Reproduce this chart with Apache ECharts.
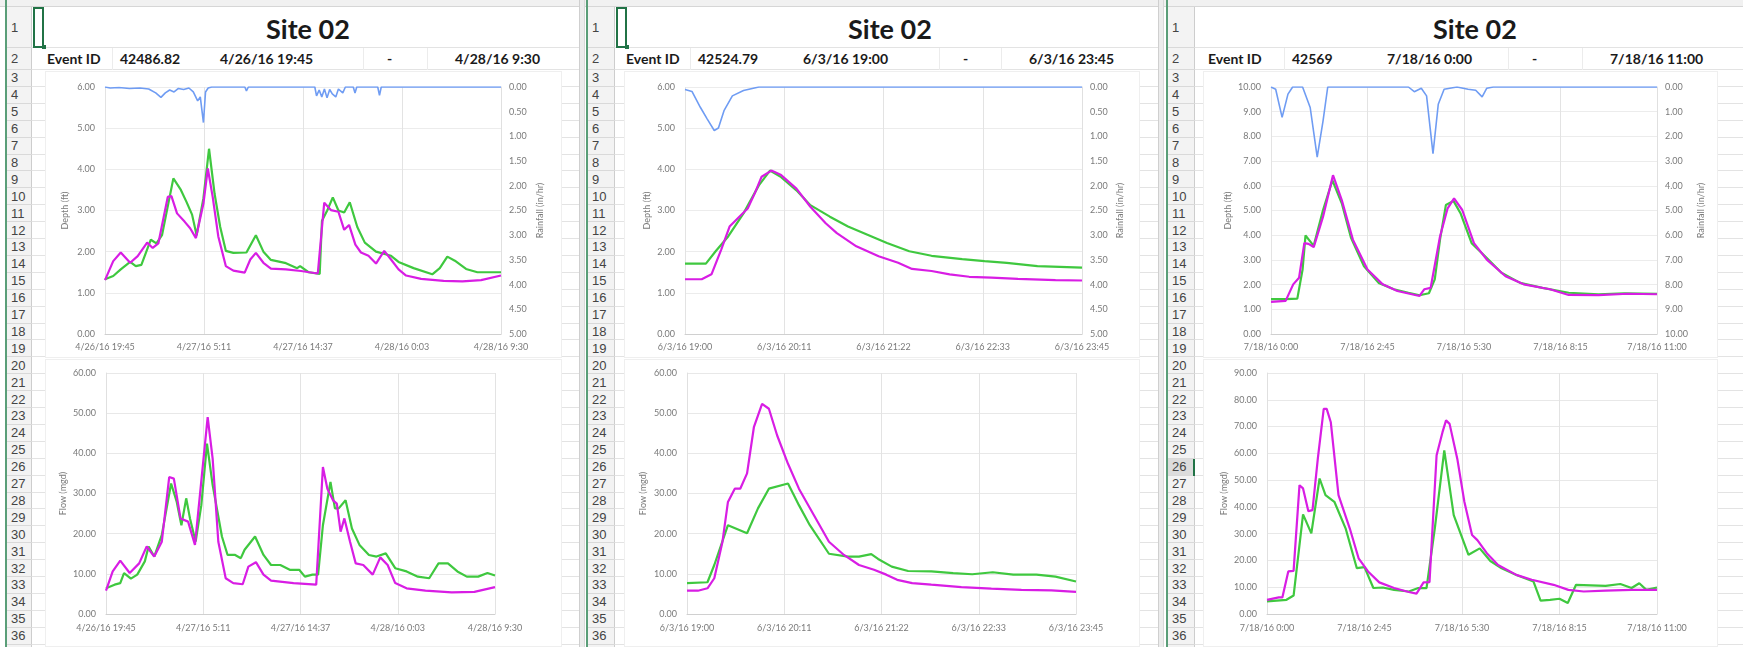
<!DOCTYPE html>
<html>
<head>
<meta charset="utf-8">
<script src="https://cdn.jsdelivr.net/npm/echarts@6/dist/echarts.min.js"></script>
<style>
  html, body { margin: 0; padding: 0; background: #fff; }
  #page { position: relative; width: 1743px; height: 647px; overflow: hidden; background: #fff; }
  #sheet, #chart { position: absolute; left: 0; top: 0; width: 1743px; height: 647px; }
  .abs { position: absolute; box-sizing: border-box; }
  .txt { position: absolute; white-space: nowrap; font-family: Lato, "Liberation Sans", sans-serif; color: #1a1a1a; }
</style>
</head>
<body>
<div id="page">
  <div id="sheet"></div>
  <div id="chart"></div>
</div>
<script>
// ---- event data -------------------------------------------------------
const eventIds   = ['42486.82', '42524.79', '42569'];
const startTimes = [Date.UTC(2016, 3, 26, 19, 45), Date.UTC(2016, 5, 3, 19, 0), Date.UTC(2016, 6, 18, 0, 0)];
const spanMinutes = [2265, 285, 660];          // event length in minutes
const depthMax = [6, 6, 10];
const rainMax  = [5, 5, 10];
const rainStep = [0.5, 0.5, 1];
const flowMax  = [60, 60, 90];

// [minutes since event start, value]
const depthObs1 = [[0,1.33],[47,1.41],[90,1.57],[144,1.75],[176,1.65],[208,1.68],[262,2.29],[294,2.2],[326,2.4],[391,3.78],[434,3.5],[466,3.21],[498,2.9],[524,2.4],[563,3.3],[595,4.5],[627,3.4],[659,2.6],[691,2.02],[734,1.97],[809,1.98],[863,2.4],[906,2.0],[949,1.8],[1035,1.72],[1099,1.6],[1116,1.65],[1164,1.5],[1228,1.46],[1241,2.75],[1271,3.0],[1303,3.32],[1335,3.0],[1368,2.95],[1400,3.2],[1443,2.6],[1486,2.22],[1550,2.0],[1636,1.9],[1679,1.75],[1765,1.6],[1872,1.45],[1915,1.6],[1958,1.88],[2001,1.78],[2065,1.58],[2130,1.5],[2265,1.5]];
const depthSim1 = [[0,1.31],[47,1.77],[90,1.98],[144,1.73],[187,1.89],[241,2.22],[273,2.09],[305,2.2],[359,3.33],[380,3.35],[412,2.93],[455,2.73],[487,2.57],[520,2.33],[563,3.17],[588,4.02],[616,3.33],[648,2.37],[691,1.65],[734,1.54],[799,1.49],[831,1.81],[863,1.97],[906,1.73],[949,1.59],[1035,1.57],[1121,1.53],[1217,1.47],[1254,3.19],[1292,3.01],[1335,2.97],[1368,2.53],[1396,2.65],[1432,2.17],[1464,1.98],[1507,1.9],[1550,1.71],[1597,2.02],[1636,1.81],[1679,1.57],[1722,1.42],[1808,1.34],[1937,1.29],[2044,1.28],[2151,1.31],[2265,1.42]];
const rain1 = [[0,0],[30,0.02],[80,0.01],[140,0.03],[200,0.02],[250,0.04],[290,0.12],[320,0.21],[345,0.12],[370,0.06],[395,0.1],[420,0.03],[450,0.05],[480,0.02],[505,0.1],[530,0.28],[545,0.2],[563,0.72],[575,0.1],[590,0.02],[610,0],[800,0],[809,0.08],[820,0],[1200,0],[1210,0.18],[1225,0.06],[1240,0.2],[1255,0.04],[1270,0.22],[1285,0.05],[1300,0.14],[1320,0.2],[1335,0.04],[1360,0.12],[1375,0],[1420,0],[1430,0.12],[1440,0],[1560,0],[1570,0.17],[1580,0],[2265,0]];
const flowObs1 = [[0,6.4],[50,7.3],[83,7.7],[105,10.2],[145,8.8],[182,9.8],[226,13.1],[248,16.8],[281,14.3],[325,19.7],[379,32.5],[412,27.9],[439,22.1],[467,28.8],[489,23.8],[522,18],[555,27.1],[588,42.4],[621,32.1],[649,25.5],[675,19.3],[708,14.7],[752,14.7],[785,13.9],[807,16],[868,19.3],[917,14.7],[961,12.2],[1015,12.2],[1070,11],[1125,11],[1158,9.3],[1202,9.8],[1235,9.8],[1263,22.1],[1307,32.9],[1333,26.3],[1355,26.3],[1395,28.3],[1432,21.3],[1476,17.2],[1531,14.7],[1575,14.3],[1629,15.1],[1684,11.4],[1750,10.6],[1816,9.3],[1882,8.9],[1936,12.6],[1991,12.6],[2046,10.6],[2101,9.3],[2167,9.3],[2221,10.2],[2265,9.6]];
const flowSim1 = [[0,5.8],[39,10.6],[83,13.3],[138,10.2],[193,12.6],[237,16.8],[281,14.3],[325,18],[368,34.1],[395,33.7],[434,23.8],[478,23],[518,17.2],[566,37.9],[592,49],[621,38.7],[654,18],[697,8.9],[741,7.7],[796,7.4],[829,11.8],[873,12.9],[917,9.8],[961,8.3],[1092,7.7],[1224,7.3],[1263,36.6],[1289,31.2],[1322,28.3],[1344,27.5],[1366,20.5],[1388,23.8],[1421,18],[1454,12.6],[1498,12.2],[1553,9.8],[1597,14.1],[1640,12.2],[1684,7.7],[1750,6.4],[1860,5.8],[2013,5.4],[2145,5.5],[2265,6.7]];

const depthObs2 = [[0,1.71],[15,1.71],[22,2.01],[31,2.37],[42,2.93],[53,3.61],[61,3.97],[69,3.81],[80,3.49],[90,3.13],[104,2.85],[117,2.61],[131,2.41],[145,2.21],[161,2.01],[177,1.9],[199,1.82],[215,1.77],[231,1.73],[253,1.65],[269,1.63],[285,1.61]];
const depthSim2 = [[0,1.33],[12,1.33],[19,1.45],[26,2.05],[32,2.61],[39,2.85],[45,3.05],[50,3.41],[55,3.82],[62,3.97],[69,3.86],[80,3.53],[90,3.09],[101,2.69],[109,2.45],[123,2.13],[139,1.89],[153,1.73],[163,1.58],[177,1.53],[190,1.45],[204,1.39],[220,1.37],[239,1.34],[266,1.31],[285,1.3]];
const rain2 = [[0,0.05],[5,0.09],[11,0.41],[16,0.65],[21,0.88],[24,0.83],[28,0.48],[34,0.18],[42,0.07],[53,0],[285,0]];
const flowObs2 = [[0,7.7],[15,7.9],[20,12.2],[30,22.1],[44,20.1],[52,26.3],[60,31.2],[74,32.5],[82,27.1],[90,22.1],[104,15],[118,14.3],[126,14.3],[135,14.9],[140,13.7],[150,11.8],[162,10.7],[179,10.6],[195,10.2],[209,9.9],[224,10.4],[239,9.8],[256,9.8],[270,9.3],[285,8.1]];
const flowSim2 = [[0,5.8],[8,5.8],[15,6.4],[20,8.9],[26,18],[30,27.9],[35,31.2],[39,31.2],[44,35],[49,46.5],[55,52.3],[60,51.1],[66,44.5],[74,37.4],[82,31.2],[93,24.6],[104,18],[115,14.7],[126,12.2],[137,11],[146,9.8],[154,8.5],[165,7.7],[179,7.3],[201,6.7],[223,6.3],[245,6],[267,5.9],[285,5.5]];

const depthObs3 = [[0,1.41],[25,1.41],[45,1.43],[54,2.61],[59,3.99],[67,3.75],[73,3.57],[89,5.02],[105,6.22],[121,5.29],[137,3.88],[159,2.74],[184,2.07],[210,1.81],[235,1.67],[254,1.57],[270,1.65],[280,2.21],[289,3.82],[299,5.22],[312,5.39],[324,4.89],[343,3.68],[369,3.08],[394,2.48],[426,2.07],[464,1.87],[509,1.67],[560,1.61],[604,1.65],[660,1.63]];
const depthSim3 = [[0,1.3],[25,1.34],[38,2.01],[48,2.28],[57,3.68],[64,3.65],[73,3.52],[89,4.75],[106,6.43],[121,5.42],[140,3.82],[165,2.61],[191,2.01],[216,1.74],[254,1.54],[262,1.81],[273,1.87],[289,3.95],[302,5.09],[313,5.49],[327,5.02],[347,3.68],[369,3.01],[401,2.34],[432,2.01],[477,1.81],[509,1.58],[560,1.57],[610,1.63],[660,1.61]];
const rain3 = [[0,0],[8,0.09],[19,1.23],[29,0.29],[37,0],[54,0],[67,0.83],[79,2.84],[89,1.37],[97,0],[235,0],[245,0.19],[257,0.05],[266,0.36],[277,2.7],[286,0.7],[296,0.09],[318,0],[337,0.09],[350,0.13],[361,0.4],[369,0.05],[380,0],[660,0]];
const flowObs3 = [[0,4.7],[33,5.3],[45,6.9],[61,37.2],[75,30.1],[89,50.6],[99,44.4],[114,41.9],[133,32],[152,17.1],[165,17.5],[180,9.7],[196,9.9],[215,9],[240,8.4],[256,9.7],[270,9.7],[284,32],[300,61.1],[316,36.9],[341,22.1],[360,24.5],[378,19.8],[397,17.1],[422,14.6],[451,12.1],[463,5],[479,5.3],[495,5.7],[509,4.1],[523,10.9],[548,10.7],[573,10.5],[598,11.2],[617,9.7],[630,11.5],[642,9],[660,9.9]];
const flowSim3 = [[0,5.3],[20,6.2],[26,6.2],[36,15.9],[45,16.1],[55,48.1],[61,46.9],[70,38.4],[77,38.8],[86,58],[96,76.6],[101,76.6],[108,71.6],[121,44.4],[140,32],[155,20.8],[171,15.9],[190,11.8],[215,9.7],[240,8.2],[253,7.6],[265,11.8],[275,11.9],[287,59.3],[297,67.9],[303,72.3],[309,71],[322,58],[334,41.9],[347,29.5],[356,27.6],[372,22.7],[391,18.3],[422,14.6],[448,12.8],[485,10.9],[510,9],[536,8.4],[573,8.7],[617,9],[660,9]];

const depthObs = [depthObs1, depthObs2, depthObs3];
const depthSim = [depthSim1, depthSim2, depthSim3];
const rainfall = [rain1, rain2, rain3];
const flowObs  = [flowObs1, flowObs2, flowObs3];
const flowSim  = [flowSim1, flowSim2, flowSim3];

// ---- colours and fonts -------------------------------------------------
const GREEN = '#3fc83f', MAGENTA = '#d81de4', BLUE = '#6f9cf3';
const FONT = 'Lato, "Liberation Sans", sans-serif';
const LABEL = '#7a7a7a', GRIDLINE = '#e3e3e3';

// "m/d/yy h:mm" for a minute offset from an event start
function stamp(start, minutes) {
  const d = new Date(start + Math.floor(minutes + 1e-6) * 60000);
  return (d.getUTCMonth() + 1) + '/' + d.getUTCDate() + '/' + String(d.getUTCFullYear()).slice(2) +
         ' ' + d.getUTCHours() + ':' + String(d.getUTCMinutes()).padStart(2, '0');
}

// ---- worksheet frame ---------------------------------------------------
const sheet = document.getElementById('sheet');
function box(x, y, w, h, css) {
  const d = document.createElement('div');
  d.className = 'abs';
  d.style.left = x + 'px'; d.style.top = y + 'px';
  d.style.width = w + 'px'; d.style.height = h + 'px';
  Object.assign(d.style, css || {});
  sheet.appendChild(d);
  return d;
}
function text(str, x, y, css) {
  const d = document.createElement('div');
  d.className = 'txt';
  d.textContent = str;
  d.style.left = x + 'px'; d.style.top = y + 'px';
  Object.assign(d.style, css || {});
  sheet.appendChild(d);
  return d;
}

// row boundaries: row 1 tall, row 2 medium, rows 3.. uniform
const rowEdges = [7, 48, 70];
for (let k = 1; k <= 35; k++) rowEdges.push(70 + 16.9 * k);

const windows = [
  { frame: 3,    head: 7,    headR: 32,   right: 579,  titleX: 308,  cells: [47, 120, 220, 387, 455], chartL: 45,   chartR: 562,  sel: true },
  { frame: 585,  head: 588,  headR: 615,  right: 1159, titleX: 890,  cells: [626, 698, 803, 963, 1029], chartL: 624, chartR: 1140, sel: true },
  { frame: 1164, head: 1168, headR: 1195, right: 1743, titleX: 1475, cells: [1208, 1292, 1387, 1532, 1610], chartL: 1203, chartR: 1718, sel: false, activeRow: 26 }
];

// column header strip
box(0, 0, 1743, 7, { background: '#f1f1f1', borderBottom: '1px solid #d6d6d6' });

windows.forEach((w, i) => {
  // window separators
  if (i > 0) {
    box(w.frame - 6, 0, 6, 647, { background: '#ececec', borderLeft: '1px solid #cfcfcf', borderRight: '1px solid #d8d8d8' });
  }
  box(w.head - 2, 0, 2, 647, { background: '#5a9e78' });
  // row headers
  box(w.head, 7, w.headR - w.head, 640, { background: '#f3f3f3', borderRight: '1px solid #cdcdcd' });
  for (let r = 0; r < 36; r++) {
    const y0 = rowEdges[r], y1 = rowEdges[r + 1];
    box(w.head, y1 - 1, w.headR - w.head, 1, { background: '#d9d9d9' });
    box(w.headR, y1 - 1, w.right - w.headR, 1, { background: GRIDLINE });
    if (w.activeRow === r + 1) {
      box(w.head, y0, w.headR - w.head, y1 - y0 - 1, { background: '#dcdcdc' });
      box(w.headR - 2, y0, 2, y1 - y0, { background: '#217346' });
    }
    text(String(r + 1), w.head + 4, (y0 + y1) / 2 - 8,
      { fontSize: '13px', color: '#444', fontFamily: '"Liberation Sans", sans-serif', lineHeight: '16px' });
  }
  // faint column lines in the event row
  [w.cells[1] - 8, w.cells[3] - 24, w.cells[4] - 28].forEach(x =>
    box(x, rowEdges[1], 1, rowEdges[2] - rowEdges[1], { background: '#ececec' }));
  // selected A1
  if (w.sel) {
    box(w.headR + 1, 7, 11, 41, { border: '2px solid #217346' });
    box(w.headR + 10, 45, 4, 4, { background: '#217346' });
  }
  // title and event row
  text('Site 02', w.titleX, 13, { fontSize: '27px', fontWeight: '700', transform: 'translateX(-50%)', lineHeight: '32px' });
  const ty = 50;
  const s = { fontSize: '14px', fontWeight: '700', lineHeight: '17px' };
  text('Event ID', w.cells[0], ty, s);
  text(eventIds[i], w.cells[1], ty, s);
  text(stamp(startTimes[i], 0), w.cells[2], ty, s);
  text('-', w.cells[3], ty, s);
  text(stamp(startTimes[i], spanMinutes[i]), w.cells[4], ty, s);
  // chart objects (white panes over the cells)
  box(w.chartL, 71, w.chartR - w.chartL, 287, { background: '#fff', border: '1px solid #efefef' });
  box(w.chartL, 359, w.chartR - w.chartL, 288, { background: '#fff', border: '1px solid #efefef' });
});

// ---- charts ----------------------------------------------------------------
const gridBoxes = [
  { left: 105,  top: 87,  width: 396, height: 247 },
  { left: 106,  top: 373, width: 389, height: 241 },
  { left: 685,  top: 87,  width: 397, height: 247 },
  { left: 687,  top: 373, width: 389, height: 241 },
  { left: 1271, top: 87,  width: 386, height: 247 },
  { left: 1267, top: 373, width: 390, height: 241 }
];
const depthNameGap = [35, 33, 38];
const rainNameGap  = [35, 34, 40];
const flowNameGap  = [38, 39, 38];

const grid = [], xAxis = [], yAxis = [], series = [];
const fmt2 = v => v.toFixed(2);
const labelStyle = { color: LABEL, fontSize: 9, fontFamily: FONT };
const nameStyle  = { color: LABEL, fontSize: 9, fontFamily: FONT };

for (let i = 0; i < 3; i++) {
  const start = startTimes[i], span = spanMinutes[i];
  [0, 1].forEach(part => {
    const g = grid.length;
    grid.push(Object.assign({ containLabel: false }, gridBoxes[g]));
    xAxis.push({
      gridIndex: g, type: 'value', min: 0, max: span, interval: span / 4,
      axisLine: { show: true, onZero: false, lineStyle: { color: '#d0d0d0' } },
      axisTick: { show: false },
      splitLine: { show: true, lineStyle: { color: GRIDLINE } },
      axisLabel: Object.assign({ margin: part ? 10 : 9, showMinLabel: true, showMaxLabel: true, hideOverlap: false,
        formatter: v => stamp(start, v) }, labelStyle)
    });
    const left = yAxis.length;
    if (part === 0) {
      yAxis.push({
        gridIndex: g, type: 'value', min: 0, max: depthMax[i], interval: 1, position: 'left',
        name: 'Depth (ft)', nameLocation: 'middle', nameRotate: 90, nameGap: depthNameGap[i], nameTextStyle: nameStyle,
        axisLine: { show: false }, axisTick: { show: false },
        splitLine: { show: true, lineStyle: { color: '#ececec' } },
        axisLabel: Object.assign({ margin: 10, formatter: fmt2 }, labelStyle)
      });
      yAxis.push({
        gridIndex: g, type: 'value', min: 0, max: rainMax[i], interval: rainStep[i], position: 'right', inverse: true,
        name: 'Rainfall (in/hr)', nameLocation: 'middle', nameRotate: 90, nameGap: rainNameGap[i], nameTextStyle: nameStyle,
        axisLine: { show: true, lineStyle: { color: '#e0e0e0' } }, axisTick: { show: false },
        splitLine: { show: false },
        axisLabel: Object.assign({ margin: 8, formatter: fmt2 }, labelStyle)
      });
      series.push(
        { type: 'line', name: 'Depth observed', xAxisIndex: g, yAxisIndex: left, data: depthObs[i],
          showSymbol: false, lineStyle: { color: GREEN, width: 2.2 }, itemStyle: { color: GREEN } },
        { type: 'line', name: 'Depth modeled', xAxisIndex: g, yAxisIndex: left, data: depthSim[i],
          showSymbol: false, lineStyle: { color: MAGENTA, width: 2.2 }, itemStyle: { color: MAGENTA } },
        { type: 'line', name: 'Rainfall', xAxisIndex: g, yAxisIndex: left + 1, data: rainfall[i],
          showSymbol: false, lineStyle: { color: BLUE, width: 1.6 }, itemStyle: { color: BLUE } }
      );
    } else {
      yAxis.push({
        gridIndex: g, type: 'value', min: 0, max: flowMax[i], interval: 10, position: 'left',
        name: 'Flow (mgd)', nameLocation: 'middle', nameRotate: 90, nameGap: flowNameGap[i], nameTextStyle: nameStyle,
        axisLine: { show: true, lineStyle: { color: '#e0e0e0' } }, axisTick: { show: false },
        splitLine: { show: true, lineStyle: { color: '#e8e8e8' } },
        axisLabel: Object.assign({ margin: 10, formatter: fmt2 }, labelStyle)
      });
      series.push(
        { type: 'line', name: 'Flow observed', xAxisIndex: g, yAxisIndex: left, data: flowObs[i],
          showSymbol: false, lineStyle: { color: GREEN, width: 2.2 }, itemStyle: { color: GREEN } },
        { type: 'line', name: 'Flow modeled', xAxisIndex: g, yAxisIndex: left, data: flowSim[i],
          showSymbol: false, lineStyle: { color: MAGENTA, width: 2.2 }, itemStyle: { color: MAGENTA } }
      );
    }
  });
}

const chart = echarts.init(document.getElementById('chart'), null, { renderer: 'canvas' });
chart.setOption({
  backgroundColor: 'transparent',
  animation: false,
  textStyle: { fontFamily: FONT },
  grid, xAxis, yAxis, series
});
</script>
</body>
</html>
